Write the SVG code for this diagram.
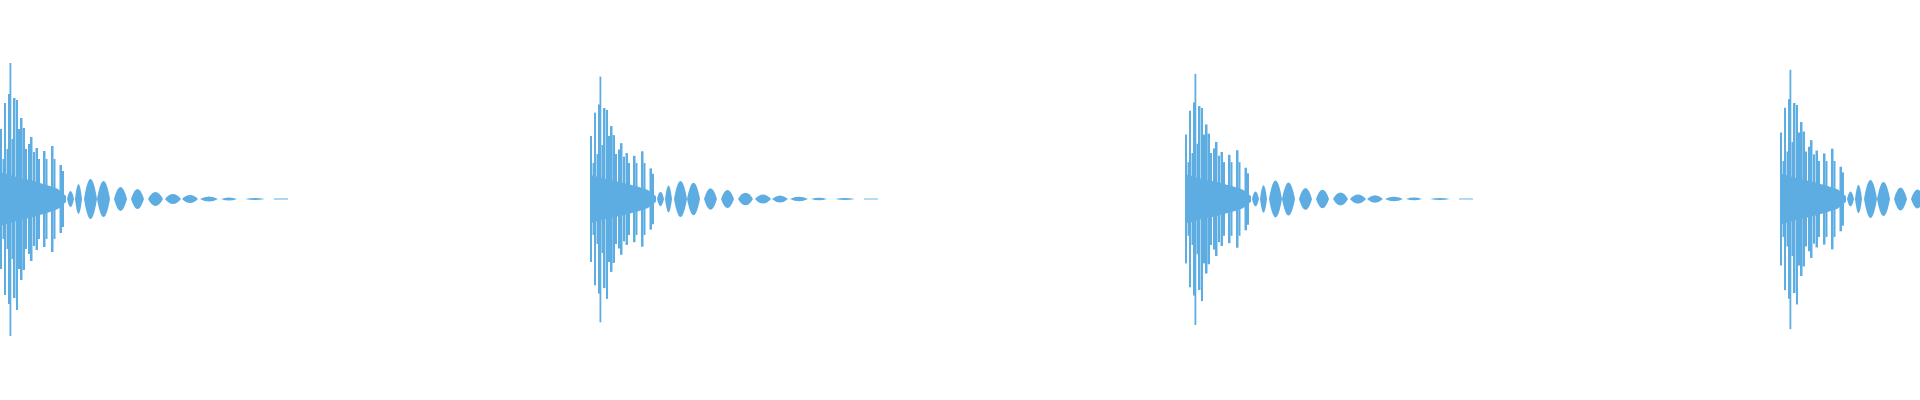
<svg xmlns="http://www.w3.org/2000/svg" width="1920" height="400" viewBox="0 0 1920 400">
<style>.w{fill:#5dade2;stroke:none}</style>
<defs>
<g id="burst" class="w">
<path d="M0,172 L10,175 L20,178 L30,180 L40,183 L50,186 L58,189 L66,196 L66,202 L58,209 L50,212 L40,215 L30,218 L20,220 L10,223 L0,226 Z"/>
<rect x="0" y="129" width="2" height="140"/>
<rect x="2.5" y="159" width="2" height="80"/>
<rect x="4" y="103" width="2" height="192"/>
<rect x="6.5" y="149" width="2" height="100"/>
<rect x="8" y="94" width="2" height="210"/>
<rect x="9.5" y="63" width="1.8" height="273"/>
<rect x="11.5" y="139" width="2" height="120"/>
<rect x="13" y="98" width="2.5" height="200"/>
<rect x="16" y="100" width="2" height="210"/>
<rect x="18" y="129" width="2" height="140"/>
<rect x="20" y="118" width="2.5" height="162"/>
<rect x="22.5" y="128" width="2.5" height="142"/>
<rect x="25" y="149" width="2" height="100"/>
<rect x="28" y="144" width="2.5" height="110"/>
<rect x="30" y="137" width="2.5" height="124"/>
<rect x="33" y="152" width="2" height="94"/>
<rect x="35.5" y="148" width="2.5" height="102"/>
<rect x="38" y="159" width="2" height="80"/>
<rect x="43" y="151" width="2.5" height="96"/>
<rect x="45.5" y="159" width="2" height="80"/>
<rect x="51" y="146" width="2.5" height="106"/>
<rect x="53.5" y="159" width="2" height="80"/>
<rect x="59.5" y="165" width="2.5" height="68"/>
<rect x="62" y="171" width="2" height="56"/>
<path d="M67,199 Q70.5,183 74,199 Q70.5,215 67,199 Z"/>
<path d="M75,199 Q78.5,169 82,199 Q78.5,229 75,199 Z"/>
<path d="M84,199 Q90.5,159 97,199 Q90.5,239 84,199 Z"/>
<path d="M97,199 Q103.5,163 110,199 Q103.5,235 97,199 Z"/>
<path d="M114,199 Q120.5,175 127,199 Q120.5,223 114,199 Z"/>
<path d="M131,199 Q137.5,179 144,199 Q137.5,219 131,199 Z"/>
<path d="M148,199 Q155.5,185 163,199 Q155.5,213 148,199 Z"/>
<path d="M165,199 Q173,189 181,199 Q173,209 165,199 Z"/>
<path d="M182,199 Q190,191 198,199 Q190,207 182,199 Z"/>
<path d="M200,199 Q209,194 218,199 Q209,204 200,199 Z"/>
<path d="M221,199 Q229,196 237,199 Q229,202 221,199 Z"/>
<path d="M245,199 Q255,197 265,199 Q255,201 245,199 Z"/>
<rect x="274" y="198.5" width="14" height="1"/>
</g>
</defs>
<use href="#burst"/>
<use href="#burst" transform="translate(590 19.9) scale(1 0.9)"/>
<use href="#burst" transform="translate(1185 15.9) scale(1 0.92)"/>
<use href="#burst" transform="translate(1780 9.95) scale(1 0.95)"/>
</svg>
